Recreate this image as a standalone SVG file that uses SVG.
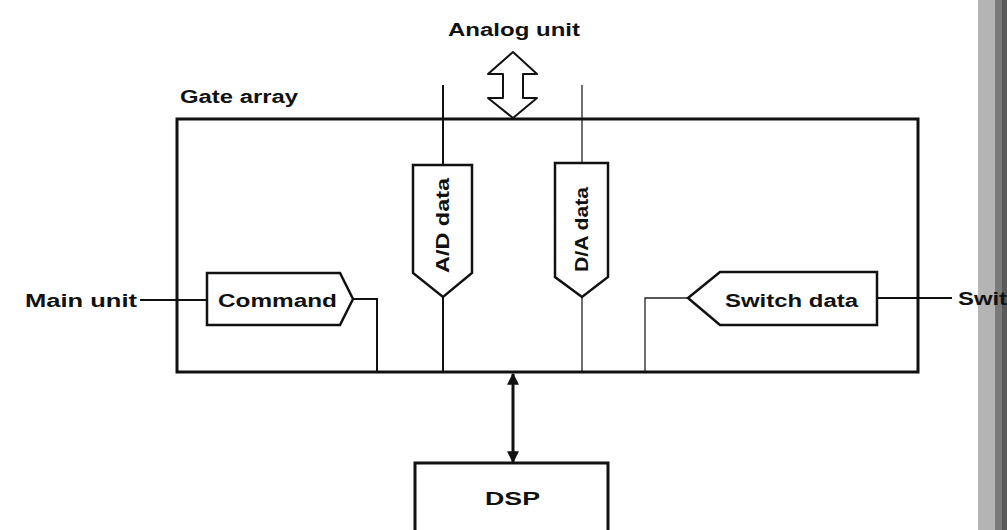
<svg xmlns="http://www.w3.org/2000/svg" width="1007" height="530" viewBox="0 0 1007 530">
<style>
text{font-family:"Liberation Sans",Arial,sans-serif;font-weight:bold;fill:#111;font-size:18px}
.box{fill:#fff;stroke:#111;stroke-width:2.5}
.ln{fill:none;stroke:#111;stroke-width:2}
.thin{fill:none;stroke:#222;stroke-width:1.3}
</style>
<defs>
<marker id="ah" viewBox="0 0 10 10" refX="9" refY="5" markerWidth="5" markerHeight="4" orient="auto-start-reverse" markerUnits="strokeWidth">
<path d="M0,0 L10,5 L0,10 Z" fill="#111"/>
</marker>
</defs>
<rect x="0" y="0" width="1007" height="530" fill="#fff"/>
<g id="scan-edge">
<rect x="978" y="0" width="29" height="530" fill="#b4b4b4"/>
<rect x="995" y="0" width="12" height="530" fill="#7a7a7a"/>
<rect x="1002" y="0" width="5" height="530" fill="#5a5a5a"/>
</g>
<g id="connectors">
<path class="ln" d="M140,300 H207"/>
<path class="ln" d="M353,299 H377 V372"/>
<path class="ln" d="M443,85 V165"/>
<path class="ln" d="M443,297 V372"/>
<path class="thin" d="M582,85 V163"/>
<path class="thin" d="M582,297 V372"/>
<path class="thin" d="M688,298 H645 V372"/>
<path class="ln" d="M877,298 H952"/>
<path d="M513,374 V462" fill="none" stroke="#111" stroke-width="3" marker-start="url(#ah)" marker-end="url(#ah)"/>
</g>
<g id="gate-array">
<rect x="177" y="119" width="741" height="253" fill="none" stroke="#111" stroke-width="3"/>
<text x="180" y="103" textLength="118" lengthAdjust="spacingAndGlyphs" font-size="17">Gate array</text>
</g>
<g id="analog-unit">
<text x="448" y="36" textLength="132" lengthAdjust="spacingAndGlyphs">Analog unit</text>
<path d="M513,52 L537,74 L523,74 V98 L537,98 L513,118 L488,98 L503,98 V74 L488,74 Z" fill="#fff" stroke="#111" stroke-width="2" stroke-linejoin="round"/>
</g>
<g id="main-unit">
<text x="25" y="307" textLength="112" lengthAdjust="spacingAndGlyphs">Main unit</text>
</g>
<g id="command">
<path class="box" d="M207,273 H340 L353,299 L340,325 H207 Z"/>
<text x="218" y="307" textLength="119" lengthAdjust="spacingAndGlyphs">Command</text>
</g>
<g id="ad-data">
<path class="box" d="M413,165 H472 V273 L443,297 L413,273 Z"/>
<text transform="translate(449,273) rotate(-90)" x="0" y="0" textLength="95" lengthAdjust="spacingAndGlyphs" font-size="17">A/D data</text>
</g>
<g id="da-data">
<path class="box" d="M555,163 H608 V277 L582,297 L555,277 Z"/>
<text transform="translate(588,272) rotate(-90)" x="0" y="0" textLength="85" lengthAdjust="spacingAndGlyphs" font-size="17">D/A data</text>
</g>
<g id="switch-data">
<path class="box" d="M877,272 H720 L688,298 L720,325 H877 Z"/>
<text x="725" y="307" textLength="133" lengthAdjust="spacingAndGlyphs">Switch data</text>
</g>
<g id="switches">
<text x="958" y="305" textLength="49" lengthAdjust="spacingAndGlyphs">Swit</text>
</g>
<g id="dsp">
<rect x="415" y="463" width="193" height="80" fill="#fff" stroke="#111" stroke-width="3"/>
<text x="485" y="505" textLength="55" lengthAdjust="spacingAndGlyphs" font-size="17" font-weight="normal">DSP</text>
</g>
</svg>
